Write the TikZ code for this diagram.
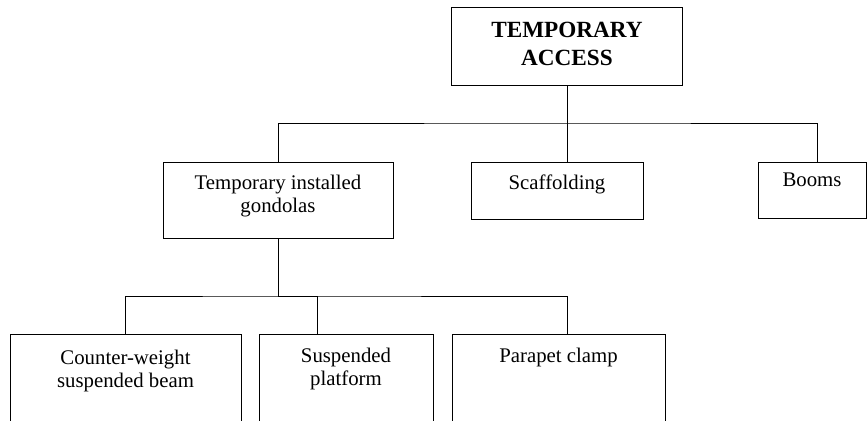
\documentclass[tikz,border=0pt]{standalone}
\usepackage{fontspec}
\setmainfont{Liberation Serif}
\usetikzlibrary{positioning}

\begin{document}
\begin{tikzpicture}[x=0.75pt, y=-0.75pt,
    box/.style={rectangle, draw, line width=0.7pt, inner sep=0pt},
    txt/.style={inner sep=0pt, align=center, font=\fontsize{15.6}{17.5}\selectfont},
    wire/.style={line width=0.7pt}]
    \useasboundingbox (0,0) rectangle (867,421);
    \clip (0,0) rectangle (867,421);
        % Define nodes
        \node (access) [box, minimum width=173.25pt, minimum height=58.5pt] at (567,46) {};
        \node (gond) [box, minimum width=172.5pt, minimum height=57pt] at (278,200) {};
        \node (scaf) [box, minimum width=129pt, minimum height=42.75pt] at (557,190.5) {};
        \node (booms) [box, minimum width=81pt, minimum height=42pt] at (812,190) {};
        \node (cwbeam) [box, minimum width=173.25pt, minimum height=79.5pt] at (125.5,387) {};
        \node (susp) [box, minimum width=130.5pt, minimum height=79.5pt] at (346,387) {};
        \node (clamp) [box, minimum width=159.75pt, minimum height=79.5pt] at (558.5,387) {};

        % Add box texts
        \node (accessT) [txt, below=11.25pt of access.north, font=\fontsize{17.4}{21}\selectfont\bfseries] {TEMPORARY\\ACCESS};
        \node (gondT) [txt, below=9.75pt of gond.north] {Temporary installed\\gondolas};
        \node (scafT) [txt, below=9.75pt of scaf.north] {Scaffolding};
        \node (boomsT) [txt, below=8.25pt of booms.north] {Booms};
        \node (cwbeamT) [txt, below=12pt of cwbeam.north] {Counter-weight\\suspended beam};
        \node (suspT) [txt, below=10.5pt of susp.north] {Suspended\\platform};
        \node (clampT) [txt, below=10.5pt of clamp.north] {Parapet clamp};

        % Draw connectors
        \coordinate (busA) at (567,123);
        \coordinate (busB) at (278,296);
        \draw[wire] (access) -- (busA);
        \draw[wire] (gond.north) |- (busA) -| ([xshift=3.75pt]booms.north);
        \draw[wire] (busA) -- ([xshift=7.5pt]scaf.north);
        \draw[wire] (gond) -- (busB);
        \draw[wire] (cwbeam.north) |- (busB) -| ([xshift=6.375pt]clamp.north);
        \draw[wire] ([xshift=-21.75pt]susp.north) |- (busB);
    \end{tikzpicture}
\end{document}
